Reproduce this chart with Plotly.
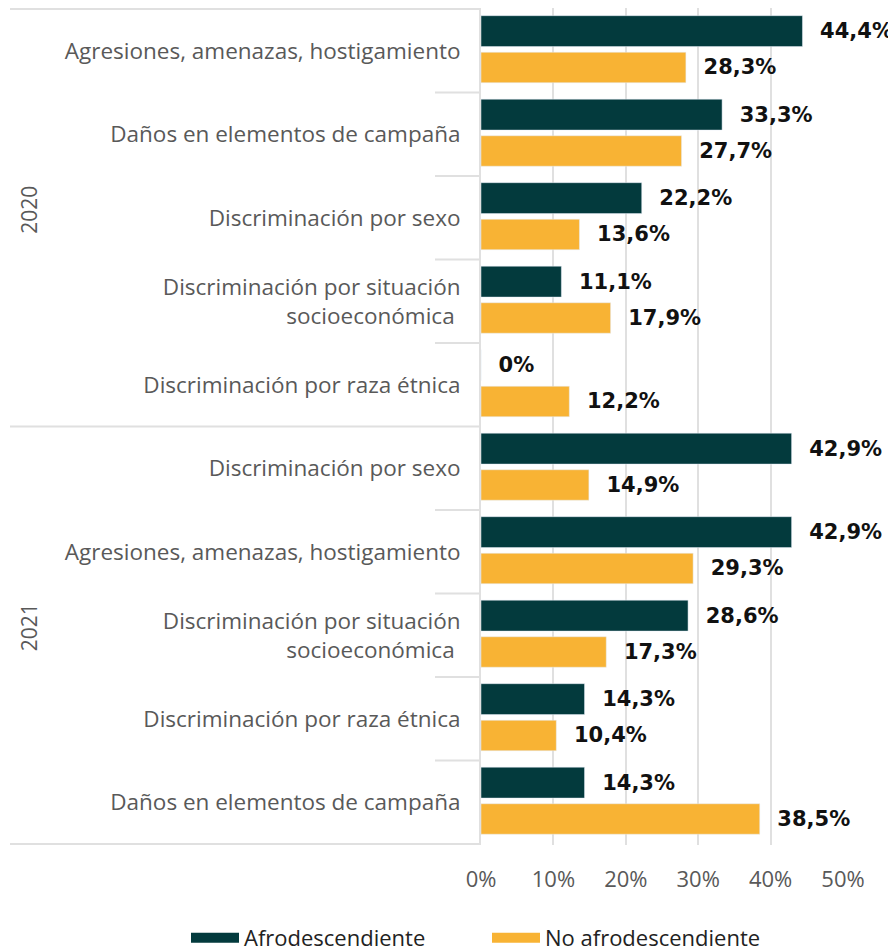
import plotly.graph_objects as go

years = ["2020"] * 5 + ["2021"] * 5
categories = [
    "Agresiones, amenazas, hostigamiento",
    "Daños en elementos de campaña",
    "Discriminación por sexo",
    "Discriminación por situación<br>socioeconómica ",
    "Discriminación por raza étnica",
    "Discriminación por sexo",
    "Agresiones, amenazas, hostigamiento",
    "Discriminación por situación<br>socioeconómica ",
    "Discriminación por raza étnica",
    "Daños en elementos de campaña",
]
afro = [44.4, 33.3, 22.2, 11.1, 0, 42.9, 42.9, 28.6, 14.3, 14.3]
no_afro = [28.3, 27.7, 13.6, 17.9, 12.2, 14.9, 29.3, 17.3, 10.4, 38.5]
series_names = ["Afrodescendiente", "No afrodescendiente"]
colors = ["#033a3d", "#f8b334"]
x_ticks = [0, 10, 20, 30, 40, 50]

keys = [f"{y}|{c}" for y, c in zip(years, categories)]


def fmt(v):
    s = f"{v:.1f}".replace(".", ",") if v != 0 else "0"
    return "\u00a0\u00a0" + s + "%"


FONT = "Open Sans"
LBL_FONT = "DejaVu Sans"
GRAY = "#595959"
LINE = "#e0e0e0"

# page body has an 8px margin, so the figure is 8px smaller than the window
W, H = 888, 941
ML, MR, MT, MB = 473, 53, 0, 104
pw = W - ML - MR
ph = H - MT - MB

# bar placement inside each category band (style)
bar_offsets = [-0.42, 0.018]
bar_widths = [0.37, 0.365]

fig = go.Figure()
for name, vals, col, off, wd in zip(series_names, [afro, no_afro], colors, bar_offsets, bar_widths):
    fig.add_trace(go.Bar(
        y=keys, x=vals, orientation="h", name=name,
        marker=dict(color=col), showlegend=False,
        offset=off, width=wd,
        text=[fmt(v) for v in vals], textposition="outside",
        outsidetextfont=dict(family=LBL_FONT, size=21, color="#111111", weight="bold"),
        constraintext="none", cliponaxis=False,
    ))
# legend entries (wide rectangles)
for name, col in zip(series_names, colors):
    fig.add_trace(go.Scatter(
        x=[None], y=[None], mode="lines", name=name,
        line=dict(color=col, width=11), showlegend=True,
    ))

# separators
n = len(keys)
full_x0 = (2 - ML) / pw
short_x0 = (427 - ML) / pw
shapes = []
for i in range(n + 1):
    b = i - 0.5
    is_year_bound = (i == 0 or i == n or years[i] != years[i - 1])
    shapes.append(dict(
        type="line", xref="paper", yref="y",
        x0=full_x0 if is_year_bound else short_x0, x1=0, y0=b, y1=b,
        line=dict(color=LINE, width=2), layer="below",
    ))

annotations = []
uniq_years = []
for y in years:
    if y not in uniq_years:
        uniq_years.append(y)
for yr in uniq_years:
    idx = [i for i, y in enumerate(years) if y == yr]
    mid = (idx[0] + idx[-1]) / 2
    annotations.append(dict(
        text=yr, xref="paper", yref="y", x=(21 - ML) / pw, y=mid,
        xanchor="center", yanchor="middle",
        textangle=-90, showarrow=False, yshift=8,
        font=dict(family=FONT, size=21, color=GRAY),
    ))

fig.update_layout(
    width=W, height=H,
    margin=dict(l=ML, r=MR, t=MT, b=MB, autoexpand=False),
    paper_bgcolor="white", plot_bgcolor="white",
    barmode="group",
    font=dict(family=FONT, size=22, color=GRAY),
    shapes=shapes, annotations=annotations,
    legend=dict(
        orientation="h",
        xanchor="left", x=(178 - ML) / pw,
        yanchor="middle", y=-(930 - (MT + ph)) / ph,
        font=dict(family=FONT, size=22, color="#222222"),
        itemwidth=48, tracegroupgap=0,
        entrywidthmode="pixels", entrywidth=238,
    ),
    xaxis=dict(
        range=[0, 50], tickvals=x_ticks, ticktext=[f"{t}%" for t in x_ticks],
        showgrid=True, gridcolor=LINE, gridwidth=2, zeroline=False,
        ticks="outside", ticklen=15, tickcolor="rgba(0,0,0,0)",
        tickfont=dict(family=FONT, size=22, color=GRAY), automargin=False,
    ),
    yaxis=dict(
        type="category", categoryorder="array", categoryarray=keys,
        autorange="reversed", tickvals=keys, ticktext=categories,
        showline=True, linecolor=LINE, linewidth=2, showgrid=False,
        ticks="outside", ticklen=14, tickcolor="rgba(0,0,0,0)",
        tickfont=dict(family=FONT, size=22.5, color=GRAY), automargin=False,
    ),
)

fig.write_html("out.html")
